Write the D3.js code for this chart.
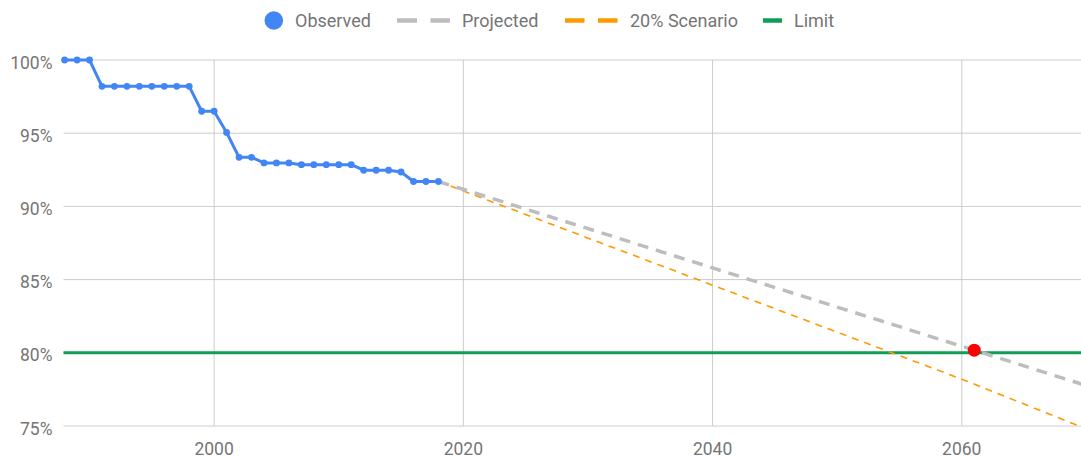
<!DOCTYPE html>
<html>
<head>
<meta charset="utf-8">
<script src="https://cdn.jsdelivr.net/npm/d3@7"></script>
<style>
  html, body { margin: 0; padding: 0; background: #fff; }
  svg { display: block; font-family: Roboto, "Noto Sans", sans-serif; }
</style>
</head>
<body>
<svg id="chart" width="1081" height="457"></svg>
<script>
// Observed share, one value per year
const obsYears = [1988, 1989, 1990, 1991, 1992, 1993, 1994, 1995, 1996, 1997, 1998,
                  1999, 2000, 2001, 2002, 2003, 2004, 2005, 2006, 2007, 2008, 2009,
                  2010, 2011, 2012, 2013, 2014, 2015, 2016, 2017, 2018];
const obsValues = [100, 100, 100, 98.2, 98.2, 98.2, 98.2, 98.2, 98.2, 98.2, 98.2,
                   96.5, 96.5, 95.05, 93.35, 93.35, 92.97, 92.97, 92.97, 92.85, 92.85, 92.85,
                   92.85, 92.85, 92.47, 92.47, 92.47, 92.35, 91.7, 91.7, 91.7];

// Trend projection and the faster 20% scenario
const projYears = [2018, 2040, 2061, 2070];
const projValues = [91.7, 85.8, 80.18, 77.76];
const scenYears = [2018, 2040, 2060, 2070];
const scenValues = [91.7, 84.62, 78.2, 74.8];

// Threshold and the year the projection crosses it
const limitValue = 80;
const crossYear = 2061;
const crossValue = 80.18;

const xTicks = [2000, 2020, 2040, 2060];
const yTicks = [75, 80, 85, 90, 95, 100];
const seriesNames = ["Observed", "Projected", "20% Scenario", "Limit"];

const svg = d3.select("#chart");
const x = d3.scaleLinear().domain([1988, 2070]).range([64.6, 1086.4]);
const y = d3.scaleLinear().domain([75, 100]).range([426, 60]);
const x0 = 63.5, x1 = 1081;

const grid = "#cccccc", txt = "#757575";

// Grid
const g = svg.append("g");
g.selectAll("line.h").data(yTicks).join("line")
  .attr("x1", x0).attr("x2", x1)
  .attr("y1", d => y(d)).attr("y2", d => y(d))
  .attr("stroke", grid).attr("stroke-width", 1);
g.selectAll("line.v").data(xTicks).join("line")
  .attr("x1", d => x(d)).attr("x2", d => x(d))
  .attr("y1", y(100)).attr("y2", y(75))
  .attr("stroke", grid).attr("stroke-width", 1);

// Axis labels
svg.append("g").selectAll("text").data(yTicks).join("text")
  .attr("x", 52.5).attr("y", d => y(d) + 8.5)
  .attr("text-anchor", "end").attr("fill", txt).attr("font-size", 17.5)
  .text(d => d + "%");
svg.append("g").selectAll("text").data(xTicks).join("text")
  .attr("x", d => x(d)).attr("y", 454.5)
  .attr("text-anchor", "middle").attr("fill", txt).attr("font-size", 17.5)
  .text(d => d);

const line = d3.line().x(d => x(d[0])).y(d => y(d[1]));

// Limit
svg.append("line")
  .attr("x1", x0).attr("x2", x1)
  .attr("y1", y(limitValue)).attr("y2", y(limitValue))
  .attr("stroke", "#0f9d58").attr("stroke-width", 3);

// Projections
svg.append("path")
  .datum(d3.zip(scenYears, scenValues))
  .attr("d", line).attr("fill", "none")
  .attr("stroke", "#ff9900").attr("stroke-width", 1.6)
  .attr("stroke-dasharray", "7,6");
svg.append("path")
  .datum(d3.zip(projYears, projValues))
  .attr("d", line).attr("fill", "none")
  .attr("stroke", "#bdbdbd").attr("stroke-width", 3.5)
  .attr("stroke-dasharray", "11,8");

// Observed
const obs = d3.zip(obsYears, obsValues);
svg.append("path").datum(obs)
  .attr("d", line).attr("fill", "none")
  .attr("stroke", "#4285f4").attr("stroke-width", 3)
  .attr("stroke-linejoin", "round");
svg.append("g").selectAll("circle").data(obs).join("circle")
  .attr("cx", d => x(d[0])).attr("cy", d => y(d[1])).attr("r", 3.4)
  .attr("fill", "#4285f4");

// Crossing point
svg.append("circle")
  .attr("cx", x(crossYear)).attr("cy", y(crossValue)).attr("r", 6.5)
  .attr("fill", "#ff0000");

// Legend
const ly = 20.5;
const leg = svg.append("g").attr("font-size", 18).attr("fill", txt);
leg.append("circle").attr("cx", 273.8).attr("cy", ly).attr("r", 9.3).attr("fill", "#4285f4");
leg.append("text").attr("x", 295).attr("y", ly + 6.3).text(seriesNames[0]);

[[397, 417], [430.5, 450]].forEach(s => leg.append("line")
  .attr("x1", s[0]).attr("x2", s[1]).attr("y1", ly).attr("y2", ly)
  .attr("stroke", "#bdbdbd").attr("stroke-width", 4.5));
leg.append("text").attr("x", 462).attr("y", ly + 6.3).text(seriesNames[1]);

[[565, 584.5], [598, 617.5]].forEach(s => leg.append("line")
  .attr("x1", s[0]).attr("x2", s[1]).attr("y1", ly).attr("y2", ly)
  .attr("stroke", "#ff9900").attr("stroke-width", 4.5));
leg.append("text").attr("x", 630).attr("y", ly + 6.3).text(seriesNames[2]);

leg.append("line").attr("x1", 763).attr("x2", 782).attr("y1", ly).attr("y2", ly)
  .attr("stroke", "#0f9d58").attr("stroke-width", 4.5);
leg.append("text").attr("x", 794).attr("y", ly + 6.3).text(seriesNames[3]);
</script>
</body>
</html>
